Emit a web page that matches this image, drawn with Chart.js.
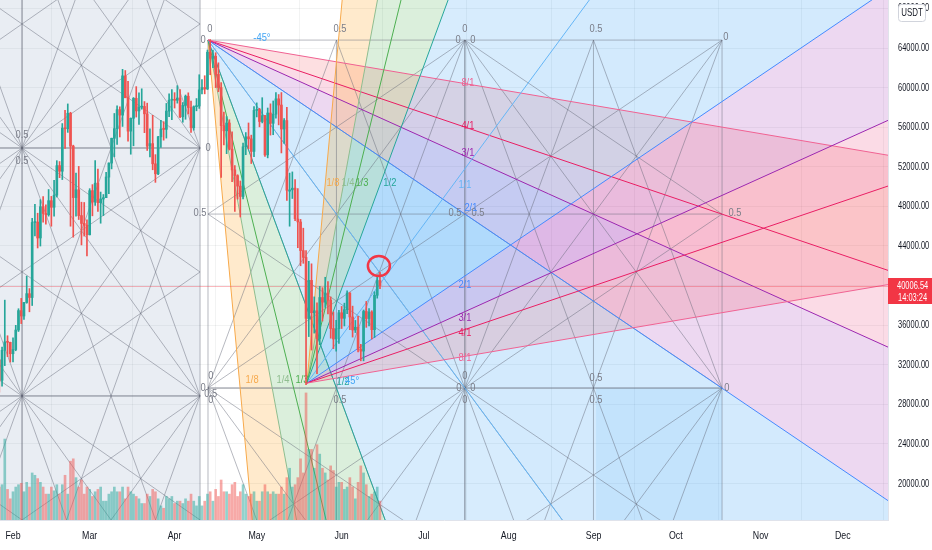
<!DOCTYPE html>
<html>
<head>
<meta charset="utf-8">
<script src="https://cdn.jsdelivr.net/npm/chart.js@4.4.0/dist/chart.umd.min.js"></script>
<style>
html, body { margin: 0; padding: 0; background: #fff; }
canvas { display: block; }
</style>
</head>
<body>
<canvas id="c" width="932" height="550"></canvas>
<script>
// BTC/USDT daily, 26 Jan 2021 .. 15 Jun 2021
const firstDate = '2021-01-26';
const open = [32259,32510,30432,33467,34316,34269,33114,33537,35510,37473,36926,38290,39186,38795,46374,46420,44807,47969,47287,47153,48577,47911,49133,52119,51552,55906,55841,57412,54087,48891,49676,47073,46276,46103,
  45134,49595,48436,50349,48375,48746,48883,50959,52375,54874,55851,57773,57221,61188,58976,55605,56900,58912,57641,58030,58100,57351,54083,54342,52303,51293,55025,55818,55782,57629,58731,
  58736,58721,58951,57052,58202,59129,57991,55953,58077,58142,59778,60012,59861,63575,62959,63159,61334,60006,56150,55633,56425,53787,51690,51110,50047,49004,54030,55033,54824,53555,
  57697,57797,56578,57169,53205,57436,56393,57315,58866,58240,55816,56670,49537,49671,49844,46724,46426,43538,42849,36671,40526,37253,37449,34655,38796,38324,39241,38529,35661,34605,35642,
  37254,36694,37568,39246,36829,35516,35796,33556,33381,37389,36677,37331,35546,39021,40516];
const high = [32921,32560,33783,38531,34933,34288,34717,35984,37662,38708,38310,40955,39700,46794,48200,47310,48678,48985,48150,49707,49010,50645,52618,52530,56368,57700,58352,57508,54183,51374,52041,48424,48395,46638,
  49790,50200,52640,51773,49448,49200,51450,52402,54895,57387,58150,58058,61844,61724,60633,56938,58996,60100,59468,59880,58589,58430,55830,57200,53230,55073,56700,56559,58400,59368,59800,
  59490,60200,59791,58493,59251,59474,58650,58153,58894,61300,60800,61200,63800,64854,63800,63520,62506,60499,57526,57076,56757,55521,52131,51200,50567,54400,55460,56428,55200,58075,
  58458,57911,58981,57200,57939,58360,58650,59500,59300,59500,56862,58000,51367,51483,50700,49800,46686,45799,43546,42451,42200,38856,38270,39920,39791,40841,40411,38856,37338,36488,37499,
  37894,38225,39476,39289,37925,36480,36900,34068,37534,38400,37690,37463,39380,41064,41330];
const low = [30837,29241,29842,31915,32825,32270,32297,33418,35362,36161,36570,38215,37351,37988,45020,43800,43994,46400,46202,47014,46000,47003,48947,50901,50710,53863,55477,46000,44892,47003,46674,44106,45000,43000,
  45115,47047,48100,47500,46300,47070,48882,49274,51789,53005,54272,55013,56078,59000,54600,53271,54123,57023,56270,57820,55450,53650,53000,51700,50427,51214,53950,54691,54900,57072,56769,
  57935,58431,56955,56502,56801,57333,55473,55700,57654,57900,59360,59369,59807,61301,62021,60000,59580,50931,54221,53329,53696,50500,47500,48734,46930,48753,53222,53813,52330,53013,
  57037,56035,56435,53046,52900,55200,55241,56900,56235,53400,54370,48600,46000,48800,46555,43825,42001,42250,30000,34850,33488,35200,31111,34031,36419,37800,37134,34684,33632,33379,34153,
  35666,35920,37170,35555,34800,35258,33300,32400,32396,35782,35936,34600,34757,38730,39700];
const close = [32510,30432,33467,34316,34269,33114,33537,35510,37473,36926,38290,39186,38795,46374,46420,44807,47969,47287,47153,48577,47911,49133,52119,51552,55906,55841,57408,54087,48891,49676,47073,46276,46106,45135,
  49587,48440,50349,48374,48751,48882,50971,52375,54884,55851,57773,57221,61188,58968,55605,56900,58912,57648,58030,58102,57351,54083,54340,52303,51293,55025,55817,55777,57628,58730,58735,
  58720,58950,57051,58202,59129,57991,55953,58077,58142,59770,60007,59861,63576,62959,63159,61334,60006,56150,55633,56425,53787,51690,51125,50047,49004,54021,55033,54824,53555,57697,
  57797,56578,57169,53200,57436,56393,57314,58862,58240,55816,56670,49631,49670,49839,46762,46431,43538,42849,36690,40526,37252,37449,34655,38796,38324,39241,38529,35663,34605,35641,37253,
  36694,37568,39246,36829,35513,35796,33552,33380,37388,36675,37331,35546,39020,40516,40006];
// volume, thousand BTC
const volume = [60,70,75,172,65,45,60,70,75,78,60,80,70,100,95,88,80,70,55,55,70,62,75,55,75,95,55,125,130,90,70,85,55,70,
  65,50,60,65,70,40,40,55,60,70,60,60,70,45,70,60,55,50,45,35,35,55,50,65,60,45,30,25,50,45,50,
  35,40,40,35,45,40,55,40,30,50,30,40,55,60,40,65,50,85,60,60,55,75,80,50,60,75,55,50,55,60,
  40,40,60,75,60,55,60,55,55,70,55,90,110,70,75,90,130,100,270,150,150,110,160,140,110,100,85,115,105,70,80,
  80,65,70,90,70,45,80,115,100,75,50,55,60,70,40];

const monthTicks = ['2021-02-01','2021-03-01','2021-04-01','2021-05-01','2021-06-01','2021-07-01','2021-08-01','2021-09-01','2021-10-01','2021-11-01','2021-12-01'];
const monthLabels = ['Feb','Mar','Apr','May','Jun','Jul','Aug','Sep','Oct','Nov','Dec'];
const priceTicks = [20000,24000,28000,32000,36000,40000,44000,48000,52000,56000,60000,64000,68000];
const lastPrice = 40006.54;
const countdown = '14:03:24';

// drawings, in [day of 2021, price]
const fanA = { from: [102.2, 64800], to: [196.0, 29650] };
const fanB = { from: [138.3, 30150], to: [196.0, 51800] };
const fanLevels = ['1/8','1/4','1/3','1/2','1/1','2/1','3/1','4/1','8/1'];
const fanRatio = [8, 4, 3, 2, 1, 1/2, 1/3, 1/4, 1/8];
const fanLineColors = ['#f7a94b','#8fbd8f','#4caf50','#26a69a','#64b5f6','#448aff','#9c27b0','#e91e63','#f06292'];
const fanBandColors = ['rgba(255,152,0,0.2)','rgba(76,175,80,0.2)','rgba(76,175,80,0.2)','rgba(33,150,243,0.18)',
  'rgba(33,150,243,0.2)','rgba(156,39,176,0.18)','rgba(233,30,99,0.16)','rgba(242,54,69,0.16)'];
// gann boxes: [day0, day1, price0, price1, mid levels]
const boxes = [
  [-30.7, 34.3, 78950, 53900, false], [34.3, 99.3, 78950, 53900, false],
  [-30.7, 34.3, 53900, 28850, false], [34.3, 99.3, 53900, 28850, false],
  [-30.7, 34.3, 28850, 3800, false],  [34.3, 99.3, 28850, 3800, false],
  [102.2, 196.0, 64800, 29650, true], [196.0, 289.9, 64800, 29650, true],
  [102.2, 196.0, 29650, -5500, true], [196.0, 289.9, 29650, -5500, true]
];
const shades = [
  [-30.7, 99.3, 90000, -10000, 'rgba(100,130,170,0.14)'],
  [243.9, 289.9, 29650, -5500, 'rgba(33,150,243,0.09)']
];
const gridLabels = [
  [102.9,65900,'0'],[150.4,65900,'0.5'],[196.0,65900,'0'],[243.9,65900,'0.5'],[291.3,65100,'0'],
  [100.4,64800,'0'],[193.5,64800,'0'],[198.9,64800,'0'],[102.2,53900,'0'],
  [99.3,47300,'0.5'],[192.4,47300,'0.5'],[200.8,47300,'0.5'],[294.6,47300,'0.5'],
  [34.3,55200,'0.5'],[34.3,52600,'0.5'],
  [103.2,30850,'0'],[100.4,29650,'0'],[103.2,29050,'0.5'],[103.2,28400,'0'],
  [196.0,30870,'0'],[193.8,29650,'0'],[198.9,29650,'0'],[196.0,28450,'0'],
  [150.4,28450,'0.5'],[243.9,30670,'0.5'],[243.9,28450,'0.5'],[291.7,29650,'0']
];
const fanLabels = [
  [197.1,60450,8],[197.1,56100,7],[197.1,53400,6],[198.2,47850,5],
  [118.3,30450,0],[129.6,30450,1],[136.5,30450,2],[151.5,30250,3],
  [147.8,50350,0],[153.3,50350,1],[158.4,50350,2],[168.6,50350,3],
  [196.0,50150,4],[196.0,40050,5],[196.0,36700,6],[196.0,35200,7],[196.0,32700,8]
];
const angleLabels = [[121.9,65000,'-45°'],[154.8,30350,'45°']];
const circleMark = [164.6, 41980];

const dayOf = s => (Date.parse(s) - Date.parse('2021-01-01')) / 864e5;
const start = dayOf(firstDate);
const days = close.map((c, i) => start + i);
const up = close.map((c, i) => c >= open[i]);
const monthDays = monthTicks.map(dayOf);

// the screenshot text is horizontally condensed
function squeezeText(ctx, s, x, y, k) {
  ctx.save();
  ctx.translate(x, y);
  ctx.scale(k, 1);
  ctx.fillText(s, 0, 0);
  ctx.restore();
}

const drawings = {
  id: 'drawings',
  beforeDatasetsDraw(chart) {
    const { ctx, chartArea: ca, scales } = chart;
    const X = v => scales.x.getPixelForValue(v);
    const Y = v => scales.y.getPixelForValue(v);
    ctx.save();
    ctx.beginPath();
    ctx.rect(ca.left, ca.top, ca.right - ca.left, ca.bottom - ca.top);
    ctx.clip();

    shades.forEach(([t0, t1, p0, p1, c]) => {
      ctx.fillStyle = c;
      ctx.fillRect(X(t0), Y(p0), X(t1) - X(t0), Y(p1) - Y(p0));
    });

    const rays = f => {
      const ox = X(f.from[0]), oy = Y(f.from[1]);
      const dx = X(f.to[0]) - ox, dy = Y(f.to[1]) - oy;
      const ends = fanRatio.map(r => {
        const ey = dy * r, L = Math.hypot(dx, ey);
        return [ox + dx / L * 4000, oy + ey / L * 4000];
      });
      return { ox, oy, ends };
    };
    const fans = [rays(fanA), rays(fanB)];

    fans.forEach(f => {
      for (let i = 0; i < f.ends.length - 1; i++) {
        ctx.beginPath();
        ctx.moveTo(f.ox, f.oy);
        ctx.lineTo(f.ends[i][0], f.ends[i][1]);
        ctx.lineTo(f.ends[i + 1][0], f.ends[i + 1][1]);
        ctx.closePath();
        ctx.fillStyle = fanBandColors[i];
        ctx.fill();
      }
    });

    ctx.strokeStyle = 'rgba(95,100,115,0.45)';
    ctx.lineWidth = 1;
    boxes.forEach(([t0, t1, p0, p1, mid]) => {
      const x0 = X(t0), x1 = X(t1), y0 = Y(p0), y1 = Y(p1);
      const xm = (x0 + x1) / 2, ym = (y0 + y1) / 2;
      const segs = [
        [x0,y0,x1,y0],[x0,y1,x1,y1],[x0,y0,x0,y1],[x1,y0,x1,y1],
        [x0,y0,x1,y1],[x1,y0,x0,y1],
        [x0,y0,x1,ym],[x0,y0,xm,y1],[x1,y0,x0,ym],[x1,y0,xm,y1],
        [x0,y1,x1,ym],[x0,y1,xm,y0],[x1,y1,x0,ym],[x1,y1,xm,y0]
      ];
      if (mid) segs.push([xm,y0,xm,y1],[x0,ym,x1,ym]);
      ctx.beginPath();
      segs.forEach(s => { ctx.moveTo(s[0], s[1]); ctx.lineTo(s[2], s[3]); });
      ctx.stroke();
    });

    fans.forEach(f => {
      f.ends.forEach((e, i) => {
        ctx.beginPath();
        ctx.moveTo(f.ox, f.oy);
        ctx.lineTo(e[0], e[1]);
        ctx.strokeStyle = fanLineColors[i];
        ctx.stroke();
      });
    });

    // last price line
    ctx.strokeStyle = 'rgba(242,54,69,0.35)';
    ctx.beginPath();
    ctx.moveTo(ca.left, Math.round(Y(lastPrice)) + 0.5);
    ctx.lineTo(ca.right, Math.round(Y(lastPrice)) + 0.5);
    ctx.stroke();

    ctx.font = '11px "Liberation Sans", Arial, sans-serif';
    ctx.textAlign = 'center';
    ctx.textBaseline = 'middle';
    ctx.fillStyle = '#7b7e89';
    gridLabels.forEach(([t, p, s]) => squeezeText(ctx, s, X(t), Y(p), 0.85));
    fanLabels.forEach(([t, p, i]) => {
      ctx.fillStyle = fanLineColors[i];
      squeezeText(ctx, fanLevels[i], X(t), Y(p), 0.85);
    });
    ctx.fillStyle = '#42a5f5';
    angleLabels.forEach(([t, p, s]) => squeezeText(ctx, s, X(t), Y(p), 0.85));
    ctx.restore();
  },
  afterDatasetsDraw(chart) {
    const { ctx, scales } = chart;
    // hand drawn circle
    ctx.save();
    ctx.strokeStyle = '#f23645';
    ctx.lineWidth = 2.5;
    ctx.beginPath();
    ctx.ellipse(scales.x.getPixelForValue(circleMark[0]), scales.y.getPixelForValue(circleMark[1]), 11, 10, 0, 0, Math.PI * 2);
    ctx.stroke();
    ctx.restore();
  },
  afterDraw(chart) {
    const { ctx, chartArea: ca, scales } = chart;
    ctx.save();
    ctx.font = '11px "Liberation Sans", Arial, sans-serif';
    ctx.fillStyle = '#131722';
    ctx.textBaseline = 'middle';
    ctx.textAlign = 'left';
    priceTicks.forEach(v => squeezeText(ctx, v.toFixed(2), ca.right + 10, scales.y.getPixelForValue(v), 0.68));
    ctx.textAlign = 'center';
    monthDays.forEach((d, i) => squeezeText(ctx, monthLabels[i], scales.x.getPixelForValue(d), ca.bottom + 16, 0.8));

    const py = Math.round(scales.y.getPixelForValue(lastPrice));
    ctx.fillStyle = '#f23645';
    ctx.fillRect(ca.right, py - 8, 44, 26);
    ctx.fillStyle = '#fff';
    ctx.textAlign = 'left';
    squeezeText(ctx, lastPrice.toFixed(2), ca.right + 9, py, 0.68);
    squeezeText(ctx, countdown, ca.right + 10, py + 12, 0.68);
    // currency badge
    ctx.fillStyle = '#fff';
    ctx.strokeStyle = '#d1d4dc';
    ctx.lineWidth = 1;
    ctx.beginPath();
    ctx.roundRect(898.5, 4.5, 27, 17, 3);
    ctx.fill();
    ctx.stroke();
    ctx.fillStyle = '#131722';
    ctx.textAlign = 'center';
    squeezeText(ctx, 'USDT', 912, 13, 0.72);
    ctx.restore();
  }
};

new Chart(document.getElementById('c'), {
  type: 'bar',
  data: {
    datasets: [
      {
        label: 'body',
        data: days.map((d, i) => ({ x: d, y: [open[i], close[i]] })),
        backgroundColor: up.map(u => u ? '#26a69a' : '#ef5350'),
        barThickness: 2, minBarLength: 1, grouped: false, yAxisID: 'y'
      },
      {
        label: 'wick',
        data: days.map((d, i) => ({ x: d, y: [low[i], high[i]] })),
        backgroundColor: up.map(u => u ? '#26a69a' : '#ef5350'),
        barThickness: 1, grouped: false, yAxisID: 'y'
      },
      {
        label: 'volume',
        data: days.map((d, i) => ({ x: d, y: volume[i] })),
        backgroundColor: up.map(u => u ? 'rgba(38,166,154,0.5)' : 'rgba(239,83,80,0.5)'),
        barThickness: 2, grouped: false, yAxisID: 'yv'
      }
    ]
  },
  options: {
    responsive: false,
    animation: false,
    devicePixelRatio: 1,
    layout: { padding: 0 },
    plugins: { legend: { display: false }, tooltip: { enabled: false } },
    scales: {
      x: {
        type: 'linear', min: 26.25, max: 350.5, offset: false,
        afterBuildTicks: s => { s.ticks = monthDays.map(v => ({ value: v })); },
        afterFit: s => { s.height = 30; s.paddingLeft = 0; s.paddingRight = 0; },
        ticks: { display: false },
        grid: { color: 'rgba(42,46,57,0.06)', drawTicks: false },
        border: { color: '#e0e3eb' }
      },
      y: {
        position: 'right', min: 16320, max: 68850,
        afterBuildTicks: s => { s.ticks = priceTicks.map(v => ({ value: v })); },
        afterFit: s => { s.width = 44; s.paddingTop = 0; s.paddingBottom = 0; },
        ticks: { display: false },
        grid: { color: 'rgba(42,46,57,0.06)', drawTicks: false },
        border: { color: '#e0e3eb' }
      },
      yv: { display: false, min: 0, max: 1105 }
    }
  },
  plugins: [drawings]
});
</script>
</body>
</html>
